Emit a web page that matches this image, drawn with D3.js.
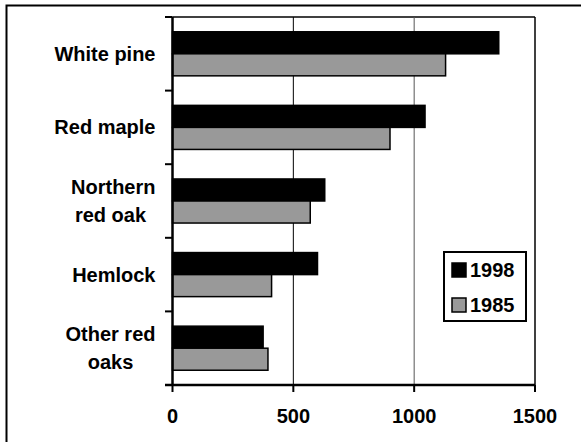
<!DOCTYPE html>
<html>
<head>
<meta charset="utf-8">
<script src="https://cdn.jsdelivr.net/npm/d3@7"></script>
<style>
  body { margin: 0; background: #fff; }
  svg text { font-family: "Liberation Sans", Arial, sans-serif; font-weight: bold; fill: #000; }
</style>
</head>
<body>
<div id="chart"></div>
<script>
const width = 581;
const height = 442;

// data
const species = ["White pine", "Red maple", "Northern\nred oak ", "Hemlock", "Other red\noaks"];
const years = ["1998", "1985"];
const values1998 = [1350, 1045, 630, 600, 375];
const values1985 = [1130, 900, 570, 410, 395];
const xTicks = [0, 500, 1000, 1500];

const colors = { "1998": "#000000", "1985": "#999999" };

const svg = d3.select("#chart")
  .append("svg")
  .attr("width", width)
  .attr("height", height);

// outer frame (right and bottom edges fall outside the picture)
svg.append("rect")
  .attr("x", 6.5)
  .attr("y", 5.5)
  .attr("width", 700)
  .attr("height", 600)
  .attr("fill", "none")
  .attr("stroke", "#000")
  .attr("stroke-width", 2);

const x = d3.scaleLinear()
  .domain([0, 1500])
  .range([172.5, 535]);

const y = d3.scaleBand()
  .domain(species)
  .range([17, 385])
  .padding(0);

const ySub = d3.scaleBand()
  .domain(years)
  .range([0, y.bandwidth()])
  .paddingInner(0)
  .paddingOuter(0.67);

// plot border top / right and gridlines
svg.append("line")
  .attr("x1", x(0)).attr("x2", x(1500))
  .attr("y1", 17).attr("y2", 17)
  .attr("stroke", "#000").attr("stroke-width", 1.5);

svg.selectAll(".grid")
  .data(xTicks.slice(1))
  .join("line")
  .attr("class", "grid")
  .attr("x1", d => x(d)).attr("x2", d => x(d))
  .attr("y1", 17).attr("y2", 385)
  .attr("stroke", (d, i) => i === 1 ? "#555" : "#000")
  .attr("stroke-width", d => d === 1500 ? 1.5 : 1);

// bars
const rows = species.map((s, i) => ({
  name: s,
  bars: [
    { year: "1998", value: values1998[i] },
    { year: "1985", value: values1985[i] }
  ]
}));

const groups = svg.selectAll(".group")
  .data(rows)
  .join("g")
  .attr("class", "group")
  .attr("transform", d => `translate(0,${y(d.name)})`);

groups.selectAll("rect")
  .data(d => d.bars)
  .join("rect")
  .attr("x", x(0))
  .attr("y", d => ySub(d.year))
  .attr("width", d => x(d.value) - x(0))
  .attr("height", ySub.bandwidth())
  .attr("fill", d => colors[d.year])
  .attr("stroke", "#000")
  .attr("stroke-width", 1.5);

// left axis with outer ticks at category boundaries
const boundaries = species.map(s => y(s)).concat([385]);
svg.append("line")
  .attr("x1", x(0)).attr("x2", x(0))
  .attr("y1", 17).attr("y2", 386)
  .attr("stroke", "#000").attr("stroke-width", 2.5);
svg.selectAll(".ytick")
  .data(boundaries)
  .join("line")
  .attr("class", "ytick")
  .attr("x1", 165).attr("x2", x(0))
  .attr("y1", d => d).attr("y2", d => d)
  .attr("stroke", "#000").attr("stroke-width", 2);

// bottom axis
svg.append("line")
  .attr("x1", 165).attr("x2", x(1500))
  .attr("y1", 385).attr("y2", 385)
  .attr("stroke", "#000").attr("stroke-width", 2.5);
svg.selectAll(".xtick")
  .data(xTicks)
  .join("line")
  .attr("class", "xtick")
  .attr("x1", d => x(d)).attr("x2", d => x(d))
  .attr("y1", 385).attr("y2", 392)
  .attr("stroke", "#000").attr("stroke-width", 2);
svg.selectAll(".xlabel")
  .data(xTicks)
  .join("text")
  .attr("class", "xlabel")
  .attr("x", d => x(d))
  .attr("y", 423)
  .attr("text-anchor", "middle")
  .style("font-size", "20px")
  .text(d => d);

// category labels: lines centred, block right-aligned
const labelRight = 155.5;
const lineGap = 27.5;
species.forEach(s => {
  const lines = s.split("\n");
  const g = svg.append("g");
  const texts = lines.map((ln, i) => g.append("text")
    .attr("y", y(s) + y.bandwidth() / 2 + 7 + (i - (lines.length - 1) / 2) * lineGap)
    .attr("text-anchor", "middle")
    .attr("xml:space", "preserve")
    .style("font-size", "20px")
    .style("white-space", "pre")
    .text(ln));
  const maxW = d3.max(texts, t => t.node().getComputedTextLength());
  texts.forEach(t => t.attr("x", labelRight - maxW / 2));
});

// legend
const legend = svg.append("g");
legend.append("rect")
  .attr("x", 444).attr("y", 252)
  .attr("width", 82).attr("height", 69)
  .attr("fill", "#fff")
  .attr("stroke", "#000").attr("stroke-width", 2);
years.forEach((yr, i) => {
  legend.append("rect")
    .attr("x", 452).attr("y", 263 + i * 35)
    .attr("width", 14).attr("height", 14)
    .attr("fill", colors[yr])
    .attr("stroke", "#000").attr("stroke-width", 1.5);
  legend.append("text")
    .attr("x", 470).attr("y", 277 + i * 35)
    .style("font-size", "20px")
    .text(yr);
});
</script>
</body>
</html>
